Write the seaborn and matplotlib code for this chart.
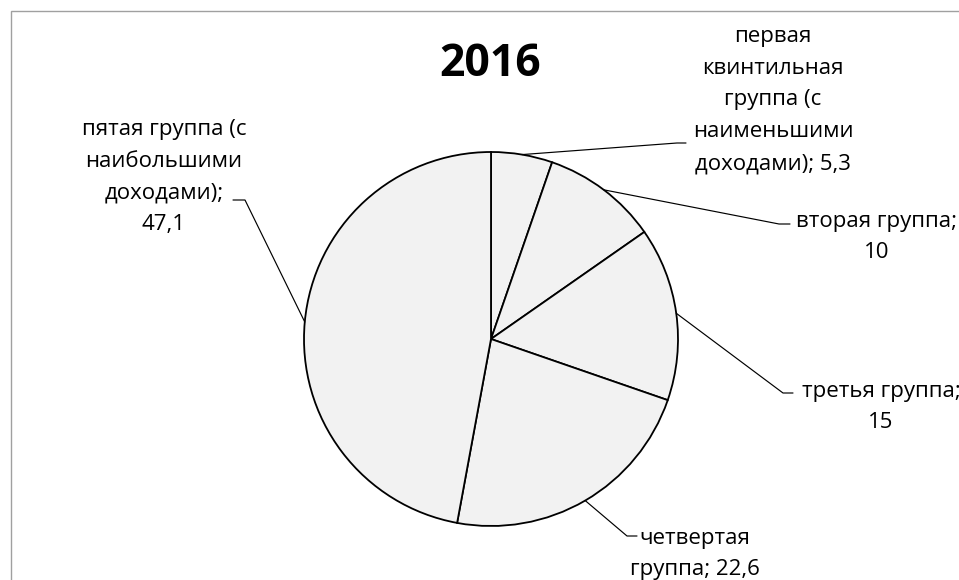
import numpy as np
import pandas as pd
import matplotlib
matplotlib.use("Agg")
import matplotlib.pyplot as plt
import seaborn as sns

# ---- data ----
title = "2016"
categories = [
    "первая\nквинтильная\nгруппа (с\nнаименьшими\nдоходами)",
    "вторая группа",
    "третья группа",
    "четвертая\nгруппа",
    "пятая группа (с\nнаибольшими\nдоходами)",
]
values = [5.3, 10, 15, 22.6, 47.1]
value_labels = ["5,3", "10", "15", "22,6", "47,1"]
label_seps = ["; ", ";\n", ";\n", "; ", ";\n"]

df = pd.DataFrame({"category": categories, "value": values, "value_label": value_labels})

# ---- style ----
sns.set_theme(style="white")
plt.rcParams["font.family"] = ["Open Sans", "DejaVu Sans"]
fill = sns.color_palette(["#f2f2f2"])[0]

W, H = 959, 580
fig = plt.figure(figsize=(W / 100, H / 100), dpi=100)
ax = fig.add_axes([0, 0, 1, 1])

cx, cy, r = 491, 339, 187
wedges, _ = ax.pie(
    df["value"], startangle=-90, counterclock=True, center=(cx, cy), radius=r,
    colors=[fill] * len(df), wedgeprops=dict(edgecolor="black", linewidth=1.3),
)
ax.set_xlim(0, W)
ax.set_ylim(H, 0)
ax.set_aspect("auto")
ax.axis("off")

# chart border (cropped chart area)
ax.plot([10.5, 10.5, W + 5], [H + 5, 10.5, 10.5], color="#a0a0a0", lw=1.0,
        solid_joinstyle="miter", clip_on=False)

# label layout: text centre, leader elbow, leader end
text_pos = [(773, 100), (877, 237), (881, 407), (695, 554), (164, 177)]
elbows = [(677, 143), (779, 224), (783, 393), (627, 536), (245, 200)]
ends = [(686, 143), (790, 224), (793, 393), (637, 536), (233, 200)]

for w, (_, row), sep, tp, el, en in zip(wedges, df.iterrows(), label_seps, text_pos, elbows, ends):
    mid = np.deg2rad((w.theta1 + w.theta2) / 2)
    px, py = cx + r * np.cos(mid), cy + r * np.sin(mid)
    ax.plot([px, el[0], en[0]], [py, el[1], en[1]], color="black", lw=0.85)
    ax.text(tp[0], tp[1], row["category"] + sep + row["value_label"],
            ha="center", va="center", multialignment="center",
            fontsize=16, linespacing=1.68, color="black")

ax.text(490, 64, title, ha="center", va="center", fontsize=32, fontweight="bold", color="black")

fig.savefig("out.png", dpi=100, facecolor="white")
